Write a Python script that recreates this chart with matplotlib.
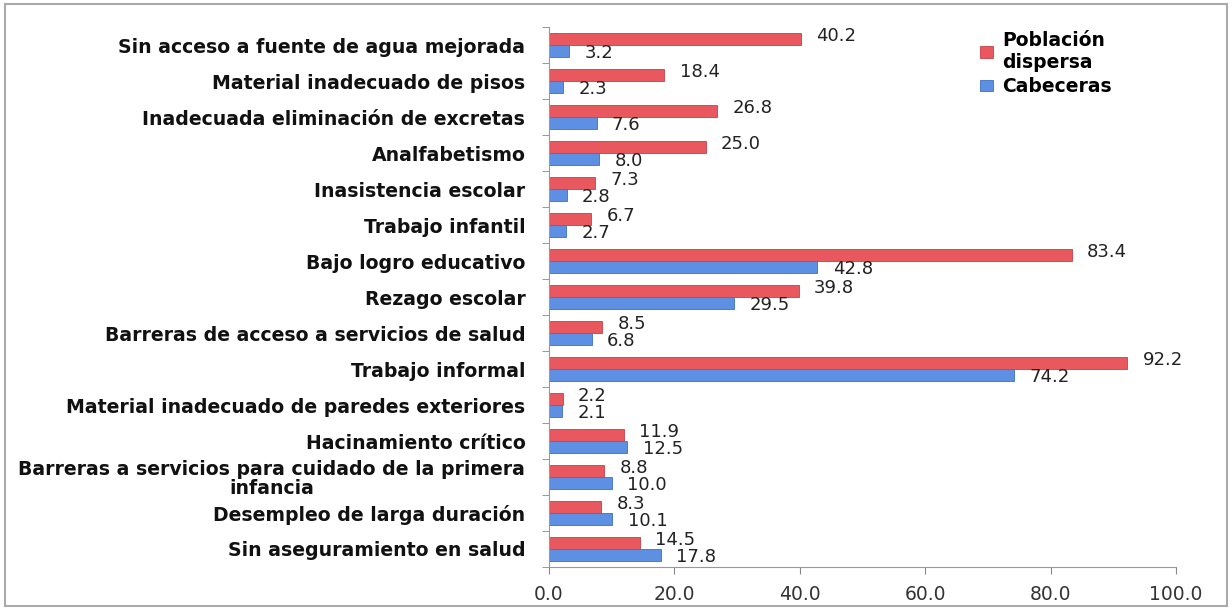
import matplotlib.pyplot as plt
import numpy as np
from matplotlib.patches import Rectangle

categorias = [
    "Sin acceso a fuente de agua mejorada",
    "Material inadecuado de pisos",
    "Inadecuada eliminación de excretas",
    "Analfabetismo",
    "Inasistencia escolar",
    "Trabajo infantil",
    "Bajo logro educativo",
    "Rezago escolar",
    "Barreras de acceso a servicios de salud",
    "Trabajo informal",
    "Material inadecuado de paredes exteriores",
    "Hacinamiento crítico",
    "Barreras a servicios para cuidado de la primera\ninfancia",
    "Desempleo de larga duración",
    "Sin aseguramiento en salud",
]
dispersa = [40.2, 18.4, 26.8, 25.0, 7.3, 6.7, 83.4, 39.8, 8.5, 92.2, 2.2, 11.9, 8.8, 8.3, 14.5]
cabeceras = [3.2, 2.3, 7.6, 8.0, 2.8, 2.7, 42.8, 29.5, 6.8, 74.2, 2.1, 12.5, 10.0, 10.1, 17.8]
xticks = [0, 20, 40, 60, 80, 100]

rojo = "#e8585e"
azul = "#5d8fe2"

fig = plt.figure(figsize=(12.32, 6.10), dpi=100)
ax = fig.add_axes([0.4456, 0.0705, 0.509, 0.885])

y = np.arange(len(categorias))
h = 0.34
ax.barh(y - h/2, dispersa, height=h, color=rojo, edgecolor="#c94045", linewidth=0.6, label="Población\ndispersa")
ax.barh(y + h/2, cabeceras, height=h, color=azul, edgecolor="#3f6fc0", linewidth=0.6, label="Cabeceras")

for i in range(len(categorias)):
    ax.annotate(f"{dispersa[i]:.1f}", (dispersa[i], y[i] - h/2), xytext=(11, 2),
                textcoords="offset points", va="center", ha="left", fontsize=13, color="#222222")
    ax.annotate(f"{cabeceras[i]:.1f}", (cabeceras[i], y[i] + h/2), xytext=(11, -1),
                textcoords="offset points", va="center", ha="left", fontsize=13, color="#222222")

ax.set_ylim(len(categorias) - 0.5, -0.5)
ax.set_xlim(0, 100)
ax.set_yticks(y)
ax.set_yticklabels(categorias, fontsize=13.6, fontweight="bold", color="#111111")
for lbl in ax.get_yticklabels():
    lbl.set_multialignment("center")
    lbl.set_linespacing(1.0)
ax.set_yticks(np.arange(-0.5, len(categorias), 1), minor=True)
ax.tick_params(axis="y", which="major", length=0, pad=17)
ax.tick_params(axis="y", which="minor", length=5, color="#888888", direction="out")
ax.set_xticks(xticks)
ax.set_xticklabels([f"{v:.1f}" for v in xticks], fontsize=13.5, color="#333333")
ax.tick_params(axis="x", length=5, color="#888888", pad=8)
for s in ["top", "right"]:
    ax.spines[s].set_visible(False)
for s in ["left", "bottom"]:
    ax.spines[s].set_color("#999999")

ax.legend(loc="upper left", bbox_to_anchor=(0.66, 1.025), frameon=False,
          prop={"weight": "bold", "size": 13.5}, handlelength=0.7, handleheight=0.6,
          handletextpad=0.5, labelspacing=0.3)

fig.patches.append(Rectangle((0.004, 0.006), 0.992, 0.988, transform=fig.transFigure,
                             fill=False, edgecolor="#aaaaaa", linewidth=1.5))

fig.savefig("out.png", dpi=100)
